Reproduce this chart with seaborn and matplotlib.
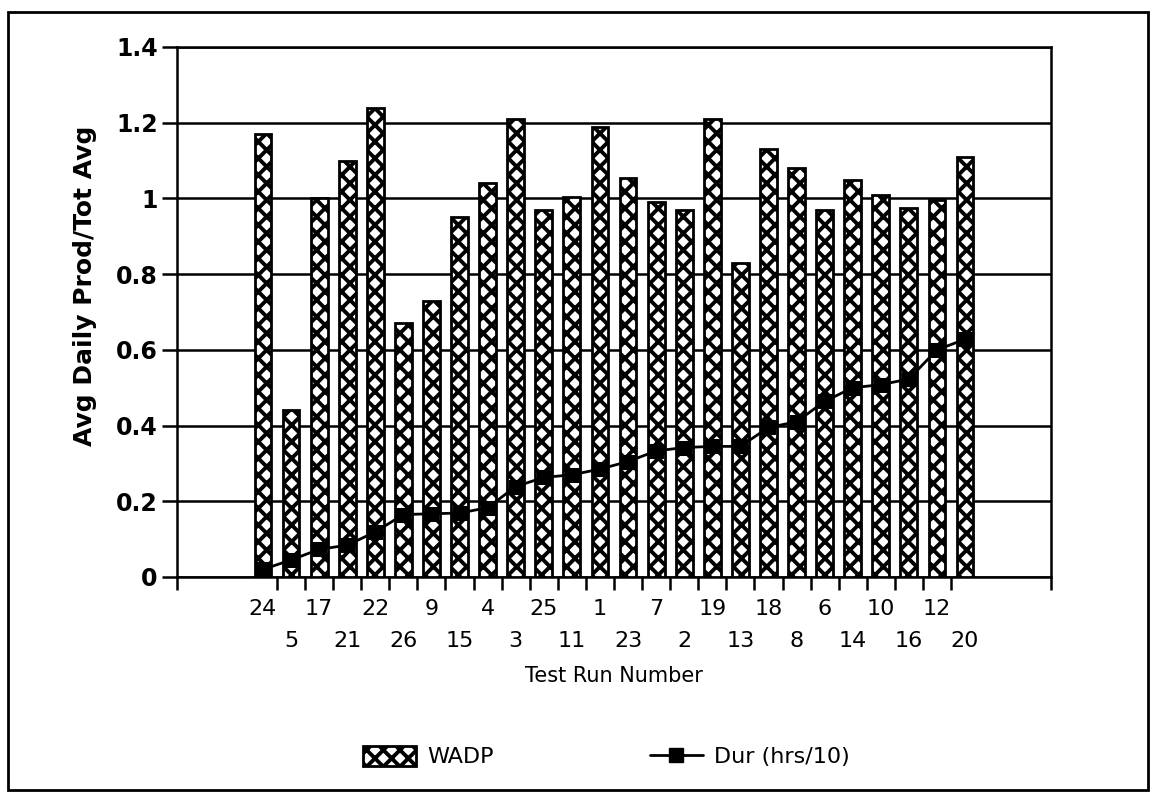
import numpy as np
import pandas as pd
import matplotlib
matplotlib.use("Agg")
import matplotlib.pyplot as plt
import seaborn as sns
from matplotlib.patches import Rectangle, Patch
from matplotlib.lines import Line2D

# ---- data ----
runs = ["24", "5", "17", "21", "22", "26", "9", "15", "4", "3", "25", "11", "1",
        "23", "7", "2", "19", "13", "18", "8", "6", "14", "10", "16", "12", "20"]
wadp = [1.17, 0.44, 1.00, 1.10, 1.24, 0.67, 0.73, 0.95, 1.04, 1.21, 0.97, 1.005, 1.19,
        1.055, 0.99, 0.97, 1.21, 0.83, 1.13, 1.08, 0.97, 1.05, 1.01, 0.975, 0.995, 1.11]
dur = [0.02, 0.045, 0.073, 0.084, 0.119, 0.165, 0.167, 0.169, 0.183, 0.239, 0.263, 0.27,
       0.285, 0.305, 0.333, 0.342, 0.345, 0.345, 0.395, 0.41, 0.464, 0.5, 0.508, 0.523, 0.6, 0.628]
yticks = [0, 0.2, 0.4, 0.6, 0.8, 1.0, 1.2, 1.4]
ytick_labels = ["0", "0.2", "0.4", "0.6", "0.8", "1", "1.2", "1.4"]

df = pd.DataFrame({"idx": np.arange(len(runs)), "run": runs, "wadp": wadp, "dur": dur})

sns.set_theme(style="white")
plt.rcParams["font.family"] = ["DejaVu Sans"]
plt.rcParams["hatch.linewidth"] = 2.8
plt.rcParams["hatch.color"] = "black"
for k in ["text.color", "axes.labelcolor", "xtick.color", "ytick.color"]:
    plt.rcParams[k] = "black"

W, H = 1153, 794
fig = plt.figure(figsize=(W / 100, H / 100), dpi=100)
fig.patch.set_facecolor("white")
ax = fig.add_axes([177 / W, 1 - 577 / H, (1051 - 177) / W, (577 - 47) / H])

sns.barplot(data=df, x="idx", y="wadp", ax=ax, color="white", edgecolor="black",
            linewidth=2, width=0.6, hatch="xx", saturation=1, zorder=3)
sns.lineplot(data=df, x="idx", y="dur", ax=ax, color="black", linewidth=2,
             marker="s", markersize=10, markeredgecolor="black",
             markerfacecolor="black", zorder=5)

n = len(runs)
pad_slots = 3.06
ax.set_xlim(-pad_slots, n - 1 + pad_slots)
ax.set_ylim(0, 1.4)

# grid lines
ax.set_axisbelow(True)
for v in yticks:
    ax.axhline(v, color="black", linewidth=1.8, zorder=1)

# y ticks
ax.set_yticks(yticks)
ax.set_yticklabels(ytick_labels, fontsize=17, fontweight="bold")
ax.tick_params(axis="y", which="major", direction="out", length=11, width=1.8,
               color="black", left=True, pad=3, labelcolor="black")

# x major ticks (between bars, plus ends) without labels
maj = [-pad_slots] + [i + 0.5 for i in range(n - 1)] + [n - 1 + pad_slots]
ax.set_xticks(maj)
ax.set_xticklabels([""] * len(maj))
ax.tick_params(axis="x", which="major", direction="out", length=9, width=1.8,
               color="black", bottom=True)
# minor ticks at bar centres carry the two-row labels
ax.set_xticks(np.arange(n), minor=True)
ax.set_xticklabels([r if i % 2 == 0 else "\n" + r for i, r in enumerate(runs)],
                   minor=True, fontsize=16, color="black")
ax.tick_params(axis="x", which="minor", length=0, pad=16, labelcolor="black")
for t in ax.get_xticklabels(minor=True):
    t.set_linespacing(1.75)

ax.set_xlabel("Test Run Number", fontsize=15, color="black")
ax.xaxis.set_label_coords(0.5, -0.168)
ax.set_ylabel("Avg Daily Prod/Tot Avg", fontsize=18, fontweight="bold", color="black")
ax.yaxis.set_label_coords(-0.0915, 0.55)

for s in ax.spines.values():
    s.set_color("black")
    s.set_linewidth(1.8)
    s.set_visible(True)

# legend
handles = [Patch(facecolor="white", edgecolor="black", hatch="xx", linewidth=2),
           Line2D([0], [0], color="black", linewidth=2, marker="s", markersize=10,
                  markerfacecolor="black")]
leg = fig.legend(handles, ["WADP", "Dur (hrs/10)"], loc="center",
                 bbox_to_anchor=(0.526, 0.047), ncol=2, frameon=False, fontsize=16,
                 handlelength=2.4, handleheight=1.0, columnspacing=7, handletextpad=0.5)
for t in leg.get_texts():
    t.set_color("black")

# outer frame
fig.patches.append(Rectangle((8 / W, 4 / H), (1148 - 8) / W, (782 - 4) / H,
                             transform=fig.transFigure, fill=False,
                             edgecolor="black", linewidth=2))

fig.savefig("out.png", dpi=100)
